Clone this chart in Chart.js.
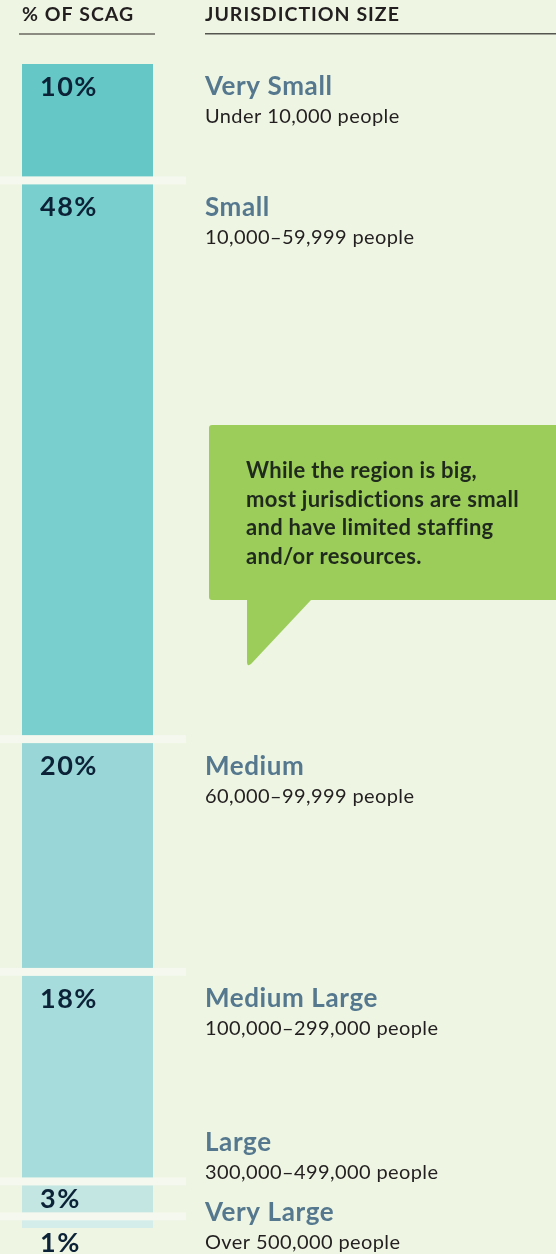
<!DOCTYPE html>
<html>
<head>
<meta charset="utf-8">
<script src="https://cdn.jsdelivr.net/npm/chart.js@4.4.1/dist/chart.umd.min.js"></script>
<style>
    html, body { margin: 0; padding: 0; background: #eef5e3; }
    #wrap { width: 556px; height: 1254px; position: relative; overflow: hidden; }
</style>
</head>
<body>
<div id="wrap"><canvas id="scagChart" width="556" height="1254"></canvas></div>
<script>
// Jurisdiction size groups, top of the bar to the bottom
var categories = ['Very Small', 'Small', 'Medium', 'Medium Large', 'Large', 'Very Large'];
var populationRanges = [
    'Under 10,000 people',
    '10,000\u201359,999 people',
    '60,000\u201399,999 people',
    '100,000\u2013299,000 people',
    '300,000\u2013499,000 people',
    'Over 500,000 people'
];
// Share of SCAG jurisdictions in each group (%)
var shares = [10, 48, 20, 18, 3, 1];

var headerLeft = '% OF SCAG';
var headerRight = 'JURISDICTION SIZE';
var calloutLines = [
    'While the region is big,',
    'most jurisdictions are small',
    'and have limited staffing',
    'and/or resources.'
];

var segmentColors = ['#65c8c7', '#78cfcd', '#99d6d7', '#a6dcdc', '#c3e6e3', '#d4edeb'];
var FONT = 'Lato, "Open Sans", sans-serif';

// one dataset per group so they stack into a single column
var datasets = categories.map(function (name, i) {
    return {
        label: name,
        data: [shares[i]],
        backgroundColor: segmentColors[i],
        borderWidth: 0,
        barPercentage: 1,
        categoryPercentage: 1
    };
});

// Labels, separators, headers and the speech bubble
var infographicPlugin = {
    id: 'infographic',
    afterDatasetsDraw: function (chart) {
        var ctx = chart.ctx;
        var area = chart.chartArea;
        var segs = chart.data.datasets.map(function (ds, i) {
            var bar = chart.getDatasetMeta(i).data[0];
            return { top: Math.min(bar.y, bar.base), bottom: Math.max(bar.y, bar.base) };
        });

        ctx.save();

        // light separators between segments, running out past the bar
        ctx.fillStyle = '#f4f8ee';
        for (var i = 1; i < segs.length; i++) {
            ctx.fillRect(0, segs[i].top - 4, area.right + 33, 8);
        }

        // row positions for the right-hand labels (keep them apart, keep them on the page)
        var rows = segs.map(function (s, i) { return (i === 0 ? s.top : s.top + 4) + 23; });
        for (i = 1; i < rows.length; i++) {
            rows[i] = Math.max(rows[i], rows[i - 1] + 70);
        }
        rows[rows.length - 1] = Math.min(rows[rows.length - 1], chart.height - 41);
        for (i = rows.length - 2; i >= 0; i--) {
            rows[i] = Math.min(rows[i], rows[i + 1] - 70);
        }

        ctx.textBaseline = 'middle';
        ctx.textAlign = 'left';
        categories.forEach(function (name, i) {
            ctx.fillStyle = '#55788f';
            ctx.font = 'bold 26px ' + FONT;
            ctx.letterSpacing = '0.6px';
            ctx.fillText(name, 205, rows[i]);
            ctx.fillStyle = '#231f20';
            ctx.font = '20px ' + FONT;
            ctx.letterSpacing = '0.4px';
            ctx.fillText(populationRanges[i], 205, rows[i] + 30);
        });

        // percentage labels inside the bar
        ctx.fillStyle = '#0c2237';
        ctx.font = 'bold 27px ' + FONT;
        ctx.letterSpacing = '1.5px';
        shares.forEach(function (v, i) {
            var s = segs[i];
            var top = i === 0 ? s.top : s.top + 4;
            var bottom = i === segs.length - 1 ? s.bottom : s.bottom - 4;
            var y;
            if (rows[i] >= top + 14 && rows[i] <= bottom - 14) {
                y = rows[i];
            } else if (bottom - top >= 26) {
                y = (top + bottom) / 2;
            } else {
                y = area.bottom + 15;
            }
            ctx.fillText(v + '%', area.left + 18, y);
        });

        // column headers
        ctx.fillStyle = '#231f20';
        ctx.font = 'bold 19.5px ' + FONT;
        ctx.letterSpacing = '1px';
        ctx.fillText(headerLeft, 22, 15);
        ctx.fillText(headerRight, 205, 15);
        ctx.fillStyle = '#8c8b82';
        ctx.fillRect(19, 33, 136, 2);
        ctx.fillStyle = '#55554f';
        ctx.fillRect(205, 33, chart.width - 205, 1.5);

        // speech bubble
        ctx.fillStyle = '#9ccc5a';
        ctx.beginPath();
        ctx.moveTo(212, 425);
        ctx.lineTo(chart.width + 10, 425);
        ctx.lineTo(chart.width + 10, 600);
        ctx.lineTo(311, 600);
        ctx.lineTo(251, 664);
        ctx.quadraticCurveTo(247, 667, 247, 662);
        ctx.lineTo(247, 600);
        ctx.lineTo(212, 600);
        ctx.quadraticCurveTo(209, 600, 209, 597);
        ctx.lineTo(209, 428);
        ctx.quadraticCurveTo(209, 425, 212, 425);
        ctx.fill();

        ctx.fillStyle = '#1f2a1c';
        ctx.font = 'bold 22px ' + FONT;
        ctx.letterSpacing = '0.3px';
        ctx.textBaseline = 'alphabetic';
        calloutLines.forEach(function (line, k) {
            ctx.fillText(line, 246, 478 + k * 28.5);
        });

        ctx.restore();
    }
};

var scagChart = new Chart(document.getElementById('scagChart'), {
    type: 'bar',
    data: { labels: ['SCAG'], datasets: datasets },
    options: {
        responsive: false,
        animation: false,
        layout: { padding: { top: 64, bottom: 26, left: 22, right: 403 } },
        plugins: {
            legend: { display: false },
            tooltip: { enabled: false }
        },
        scales: {
            x: { stacked: true, display: false },
            y: { stacked: true, display: false, reverse: true, min: 0, max: 100 }
        }
    },
    plugins: [infographicPlugin]
});
</script>
</body>
</html>
